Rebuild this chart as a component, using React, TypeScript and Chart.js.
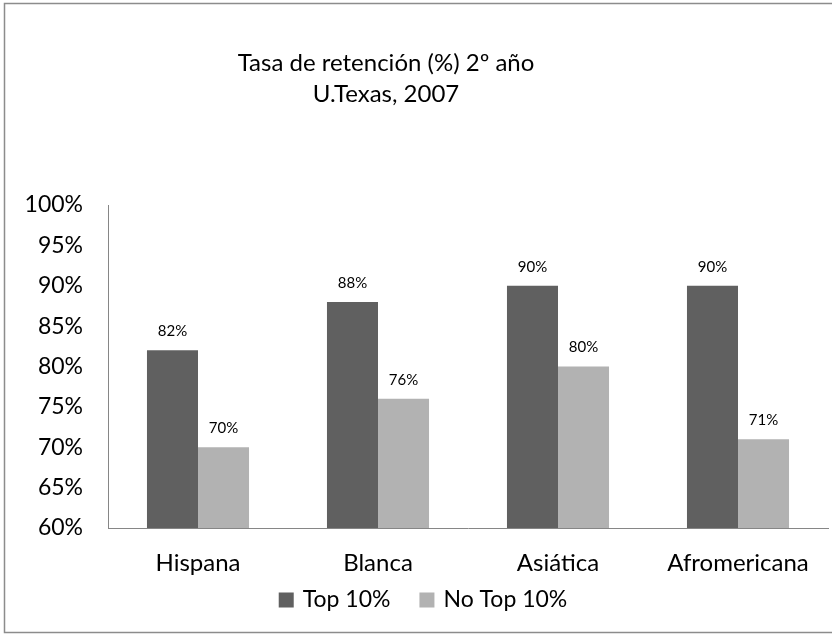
import React, { useEffect, useRef } from "react";
import { Chart, registerables } from "chart.js";

Chart.register(...registerables);

const categories = ["Hispana", "Blanca", "Asiática", "Afromericana"];
const top10Values = [82, 88, 90, 90];
const noTop10Values = [70, 76, 80, 71];
const seriesNames = ["Top 10%", "No Top 10%"];
const seriesColors = ["#606060", "#b2b2b2"];
const titleLines = ["Tasa de retención (%) 2º año", "U.Texas, 2007"];
const yMin = 60;
const yMax = 100;
const yStep = 5;

const FONT = "Lato, 'Open Sans', sans-serif";

const framePlugin = {
  id: "frame",
  beforeDraw(chart: any) {
    const ctx = chart.ctx;
    ctx.save();
    ctx.fillStyle = "#ffffff";
    ctx.fillRect(0, 0, chart.width, chart.height);
    ctx.strokeStyle = "#8c8c8c";
    ctx.lineWidth = 1.5;
    ctx.strokeRect(4.5, 3.5, chart.width + 20, chart.height - 5);
    ctx.restore();
  },
};

const titlePlugin = {
  id: "customTitle",
  afterDraw(chart: any) {
    const ctx = chart.ctx;
    ctx.save();
    ctx.fillStyle = "#000000";
    ctx.font = `24px ${FONT}`;
    ctx.textAlign = "center";
    ctx.textBaseline = "middle";
    titleLines.forEach((line, i) => {
      ctx.fillText(line, 386, 63 + i * 31);
    });
    ctx.restore();
  },
};

const legendPlugin = {
  id: "customLegend",
  afterDraw(chart: any) {
    const ctx = chart.ctx;
    ctx.save();
    ctx.font = `23px ${FONT}`;
    ctx.textBaseline = "middle";
    ctx.textAlign = "left";
    const box = 15;
    const gap = 9;
    const itemGap = 29;
    const items = chart.data.datasets.map((ds: any) => ({
      text: ds.label,
      color: ds.backgroundColor,
      w: box + gap + ctx.measureText(ds.label).width,
    }));
    const total =
      items.reduce((s: number, it: any) => s + it.w, 0) + itemGap * (items.length - 1);
    const cy = chart.chartArea.bottom + 72;
    let x = 423 - total / 2;
    items.forEach((it: any) => {
      ctx.fillStyle = it.color;
      ctx.fillRect(x, cy - box / 2, box, box);
      ctx.fillStyle = "#000000";
      ctx.fillText(it.text, x + box + gap, cy);
      x += it.w + itemGap;
    });
    ctx.restore();
  },
};

const labelPlugin = {
  id: "barLabels",
  afterDatasetsDraw(chart: any) {
    const ctx = chart.ctx;
    ctx.save();
    ctx.fillStyle = "#000000";
    ctx.font = `15px ${FONT}`;
    ctx.textAlign = "center";
    ctx.textBaseline = "middle";
    chart.data.datasets.forEach((ds: any, di: number) => {
      const meta = chart.getDatasetMeta(di);
      meta.data.forEach((bar: any, i: number) => {
        ctx.fillText(`${ds.data[i]}%`, bar.x, bar.y - 19);
      });
    });
    ctx.restore();
  },
};

export default function App() {
  const canvasRef = useRef<HTMLCanvasElement | null>(null);

  useEffect(() => {
    if (!canvasRef.current) return;
    const chart = new Chart(canvasRef.current, {
      type: "bar",
      data: {
        labels: categories,
        datasets: [
          {
            label: seriesNames[0],
            data: top10Values,
            backgroundColor: seriesColors[0],
            borderWidth: 0,
            categoryPercentage: 0.567,
            barPercentage: 1,
          },
          {
            label: seriesNames[1],
            data: noTop10Values,
            backgroundColor: seriesColors[1],
            borderWidth: 0,
            categoryPercentage: 0.567,
            barPercentage: 1,
          },
        ],
      },
      options: {
        responsive: false,
        animation: false,
        devicePixelRatio: 1,
        layout: { padding: { top: 205, right: 4, left: 0, bottom: 54 } },
        plugins: {
          title: { display: false },
          tooltip: { enabled: false },
          legend: { display: false },
        },
        scales: {
          x: {
            grid: { display: false, drawTicks: false },
            border: { color: "#868686", width: 1 },
            ticks: {
              color: "#000000",
              font: { family: FONT, size: 24 },
              padding: 21,
            },
            afterFit: (s: any) => {
              s.height = 52;
            },
          },
          y: {
            min: yMin,
            max: yMax,
            grid: { display: false, drawTicks: false },
            border: { color: "#868686", width: 1 },
            ticks: {
              stepSize: yStep,
              color: "#000000",
              font: { family: FONT, size: 23 },
              padding: 25,
              callback: (v: any) => `${v}%`,
            },
            afterFit: (s: any) => {
              s.width = 108;
            },
          },
        },
      },
      plugins: [framePlugin, titlePlugin, labelPlugin, legendPlugin],
    });
    return () => chart.destroy();
  }, []);

  return (
    <div style={{ position: "absolute", left: 0, top: 0, width: 832, height: 634 }}>
      <canvas ref={canvasRef} width={832} height={634} />
    </div>
  );
}
